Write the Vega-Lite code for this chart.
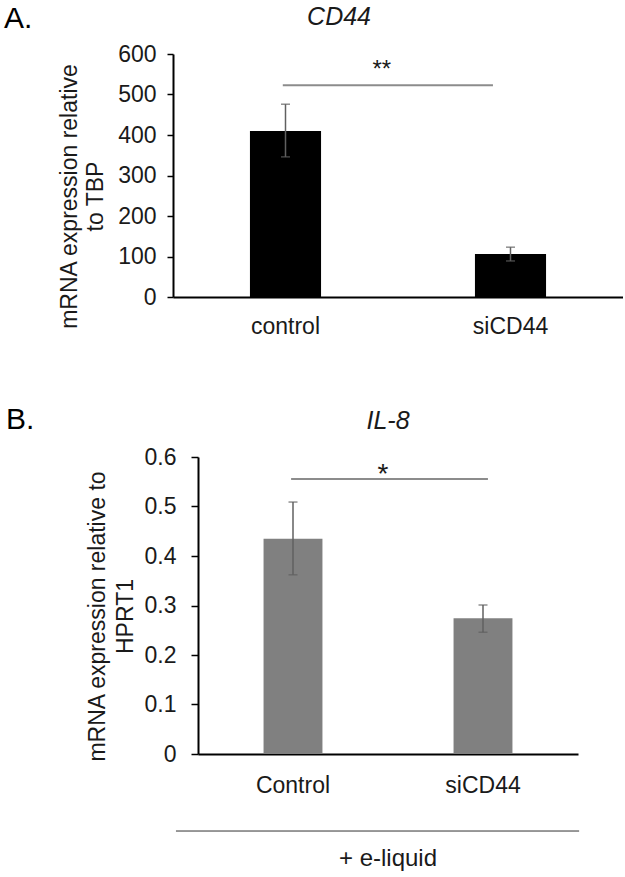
{
  "$schema": "https://vega.github.io/schema/vega-lite/v6.json",
  "padding": {"left": 3, "top": 4, "right": 0, "bottom": 0},
  "spacing": 66,
  "datasets": {
    "cd44": [
      {"group": "control", "mean": 410, "lo": 346, "hi": 476},
      {"group": "siCD44", "mean": 106, "lo": 89, "hi": 123}
    ],
    "il8": [
      {"group": "Control", "mean": 0.435, "lo": 0.362, "hi": 0.509},
      {"group": "siCD44", "mean": 0.274, "lo": 0.246, "hi": 0.301}
    ]
  },
  "vconcat": [
    {
      "width": 450,
      "height": 243,
      "resolve": {"scale": {"x": "independent"}},
      "layer": [
        {
          "data": {"name": "cd44"},
          "layer": [
            {
              "mark": {"type": "bar", "color": "#000000"},
              "encoding": {
                "x": {"field": "group", "type": "nominal", "sort": null,
                  "scale": {"paddingInner": 0.684, "paddingOuter": 0.342},
                  "axis": {"title": null, "labelAngle": 0, "ticks": false, "labelFontSize": 23, "labelColor": "#1a1a1a", "labelPadding": 18, "domainColor": "#000000", "domainWidth": 2}},
                "y": {"field": "mean", "type": "quantitative",
                  "scale": {"domain": [0, 600], "nice": false},
                  "axis": {"values": [0, 100, 200, 300, 400, 500, 600], "title": ["mRNA expression relative", "to TBP"], "titleY": 142, "titleFontSize": 23, "titleFontWeight": "normal", "titleColor": "#1a1a1a", "titleLineHeight": 26, "titlePadding": 10, "labelFontSize": 23, "labelColor": "#1a1a1a", "labelPadding": 11, "tickSize": 6, "tickColor": "#000000", "tickWidth": 1.5, "domainColor": "#000000", "domainWidth": 2}}
              }
            },
            {
              "mark": {"type": "rule", "color": "#606060", "strokeWidth": 1.5},
              "encoding": {
                "x": {"field": "group", "type": "nominal", "sort": null},
                "y": {"field": "lo", "type": "quantitative", "scale": {"domain": [0, 600], "nice": false}},
                "y2": {"field": "hi"}
              }
            },
            {
              "mark": {"type": "tick", "color": "#606060", "size": 9, "thickness": 1.5},
              "encoding": {
                "x": {"field": "group", "type": "nominal", "sort": null},
                "y": {"field": "lo", "type": "quantitative", "scale": {"domain": [0, 600], "nice": false}}
              }
            },
            {
              "mark": {"type": "tick", "color": "#606060", "size": 9, "thickness": 1.5},
              "encoding": {
                "x": {"field": "group", "type": "nominal", "sort": null},
                "y": {"field": "hi", "type": "quantitative", "scale": {"domain": [0, 600], "nice": false}}
              }
            }
          ]
        },
        {
          "data": {"values": [{"t": "A."}]},
          "mark": {"type": "text", "align": "left", "baseline": "alphabetic", "fontSize": 30, "color": "#000000"},
          "encoding": {
            "x": {"datum": -0.3756, "type": "quantitative", "scale": {"domain": [0, 1], "nice": false, "zero": false}, "axis": null},
            "y": {"datum": 664, "type": "quantitative", "scale": {"domain": [0, 600], "nice": false}},
            "text": {"field": "t"}
          }
        },
        {
          "data": {"values": [{"t": "CD44"}]},
          "mark": {"type": "text", "align": "center", "baseline": "alphabetic", "fontSize": 25, "fontStyle": "italic", "color": "#1a1a1a"},
          "encoding": {
            "x": {"datum": 0.369, "type": "quantitative", "scale": {"domain": [0, 1], "nice": false, "zero": false}, "axis": null},
            "y": {"datum": 672, "type": "quantitative", "scale": {"domain": [0, 600], "nice": false}},
            "text": {"field": "t"}
          }
        },
        {
          "data": {"values": [{"t": "sig"}]},
          "mark": {"type": "rule", "color": "#8c8c8c", "strokeWidth": 2},
          "encoding": {
            "x": {"datum": 0.244, "type": "quantitative", "scale": {"domain": [0, 1], "nice": false, "zero": false}, "axis": null},
            "x2": {"datum": 0.711},
            "y": {"datum": 523, "type": "quantitative", "scale": {"domain": [0, 600], "nice": false}}
          }
        },
        {
          "data": {"values": [{"t": "**"}]},
          "mark": {"type": "text", "align": "center", "baseline": "alphabetic", "fontSize": 24, "color": "#1a1a1a"},
          "encoding": {
            "x": {"datum": 0.464, "type": "quantitative", "scale": {"domain": [0, 1], "nice": false, "zero": false}, "axis": null},
            "y": {"datum": 543, "type": "quantitative", "scale": {"domain": [0, 600], "nice": false}},
            "text": {"field": "t"}
          }
        }
      ]
    },
    {
      "width": 405,
      "height": 297,
      "resolve": {"scale": {"x": "independent"}},
      "layer": [
        {
          "data": {"name": "il8"},
          "layer": [
            {
              "mark": {"type": "bar", "color": "#808080"},
              "encoding": {
                "x": {"field": "group", "type": "nominal", "sort": null,
                  "scale": {"paddingInner": 0.69, "paddingOuter": 0.345, "range": [25, 405]},
                  "axis": {"title": null, "labelAngle": 0, "ticks": false, "labelFontSize": 23, "labelColor": "#1a1a1a", "labelPadding": 20, "domainColor": "#000000", "domainWidth": 2}},
                "y": {"field": "mean", "type": "quantitative",
                  "scale": {"domain": [0, 0.6], "nice": false},
                  "axis": {"offset": -25, "values": [0, 0.1, 0.2, 0.3, 0.4, 0.5, 0.6], "format": "~g", "title": ["mRNA expression relative to", "HPRT1"], "titleY": 159, "titleFontSize": 23, "titleFontWeight": "normal", "titleColor": "#1a1a1a", "titleLineHeight": 28, "titlePadding": 7, "labelFontSize": 23, "labelColor": "#1a1a1a", "labelPadding": 15, "tickSize": 7, "tickColor": "#000000", "tickWidth": 1.5, "domainColor": "#000000", "domainWidth": 2}}
              }
            },
            {
              "mark": {"type": "rule", "color": "#606060", "strokeWidth": 1.5},
              "encoding": {
                "x": {"field": "group", "type": "nominal", "sort": null},
                "y": {"field": "lo", "type": "quantitative", "scale": {"domain": [0, 0.6], "nice": false}},
                "y2": {"field": "hi"}
              }
            },
            {
              "mark": {"type": "tick", "color": "#606060", "size": 9, "thickness": 1.5},
              "encoding": {
                "x": {"field": "group", "type": "nominal", "sort": null},
                "y": {"field": "lo", "type": "quantitative", "scale": {"domain": [0, 0.6], "nice": false}}
              }
            },
            {
              "mark": {"type": "tick", "color": "#606060", "size": 9, "thickness": 1.5},
              "encoding": {
                "x": {"field": "group", "type": "nominal", "sort": null},
                "y": {"field": "hi", "type": "quantitative", "scale": {"domain": [0, 0.6], "nice": false}}
              }
            }
          ]
        },
        {
          "data": {"values": [{"t": "B."}]},
          "mark": {"type": "text", "align": "left", "baseline": "alphabetic", "fontSize": 30, "color": "#000000"},
          "encoding": {
            "x": {"datum": -0.5053, "type": "quantitative", "scale": {"domain": [0, 1], "nice": false, "zero": false, "range": [25, 405]}, "axis": null},
            "y": {"datum": 0.6566, "type": "quantitative", "scale": {"domain": [0, 0.6], "nice": false}},
            "text": {"field": "t"}
          }
        },
        {
          "data": {"values": [{"t": "IL-8"}]},
          "mark": {"type": "text", "align": "center", "baseline": "alphabetic", "fontSize": 25, "fontStyle": "italic", "color": "#1a1a1a"},
          "encoding": {
            "x": {"datum": 0.5, "type": "quantitative", "scale": {"domain": [0, 1], "nice": false, "zero": false, "range": [25, 405]}, "axis": null},
            "y": {"datum": 0.6566, "type": "quantitative", "scale": {"domain": [0, 0.6], "nice": false}},
            "text": {"field": "t"}
          }
        },
        {
          "data": {"values": [{"t": "sig"}]},
          "mark": {"type": "rule", "color": "#8c8c8c", "strokeWidth": 2},
          "encoding": {
            "x": {"datum": 0.245, "type": "quantitative", "scale": {"domain": [0, 1], "nice": false, "zero": false, "range": [25, 405]}, "axis": null},
            "x2": {"datum": 0.763},
            "y": {"datum": 0.5556, "type": "quantitative", "scale": {"domain": [0, 0.6], "nice": false}}
          }
        },
        {
          "data": {"values": [{"t": "*"}]},
          "mark": {"type": "text", "align": "center", "baseline": "alphabetic", "fontSize": 28, "color": "#1a1a1a"},
          "encoding": {
            "x": {"datum": 0.487, "type": "quantitative", "scale": {"domain": [0, 1], "nice": false, "zero": false, "range": [25, 405]}, "axis": null},
            "y": {"datum": 0.547, "type": "quantitative", "scale": {"domain": [0, 0.6], "nice": false}},
            "text": {"field": "t"}
          }
        },
        {
          "data": {"values": [{"t": "bracket"}]},
          "mark": {"type": "rule", "color": "#333333", "strokeWidth": 1},
          "encoding": {
            "x": {"datum": -0.058, "type": "quantitative", "scale": {"domain": [0, 1], "nice": false, "zero": false, "range": [25, 405]}, "axis": null},
            "x2": {"datum": 1.003},
            "y": {"datum": -0.1556, "type": "quantitative", "scale": {"domain": [0, 0.6], "nice": false}}
          }
        },
        {
          "data": {"values": [{"t": "+ e-liquid"}]},
          "mark": {"type": "text", "align": "center", "baseline": "alphabetic", "fontSize": 24, "color": "#1a1a1a"},
          "encoding": {
            "x": {"datum": 0.5, "type": "quantitative", "scale": {"domain": [0, 1], "nice": false, "zero": false, "range": [25, 405]}, "axis": null},
            "y": {"datum": -0.2263, "type": "quantitative", "scale": {"domain": [0, 0.6], "nice": false}},
            "text": {"field": "t"}
          }
        }
      ]
    }
  ],
  "config": {
    "view": {"stroke": null},
    "font": "Liberation Sans",
    "axis": {"grid": false}
  }
}
